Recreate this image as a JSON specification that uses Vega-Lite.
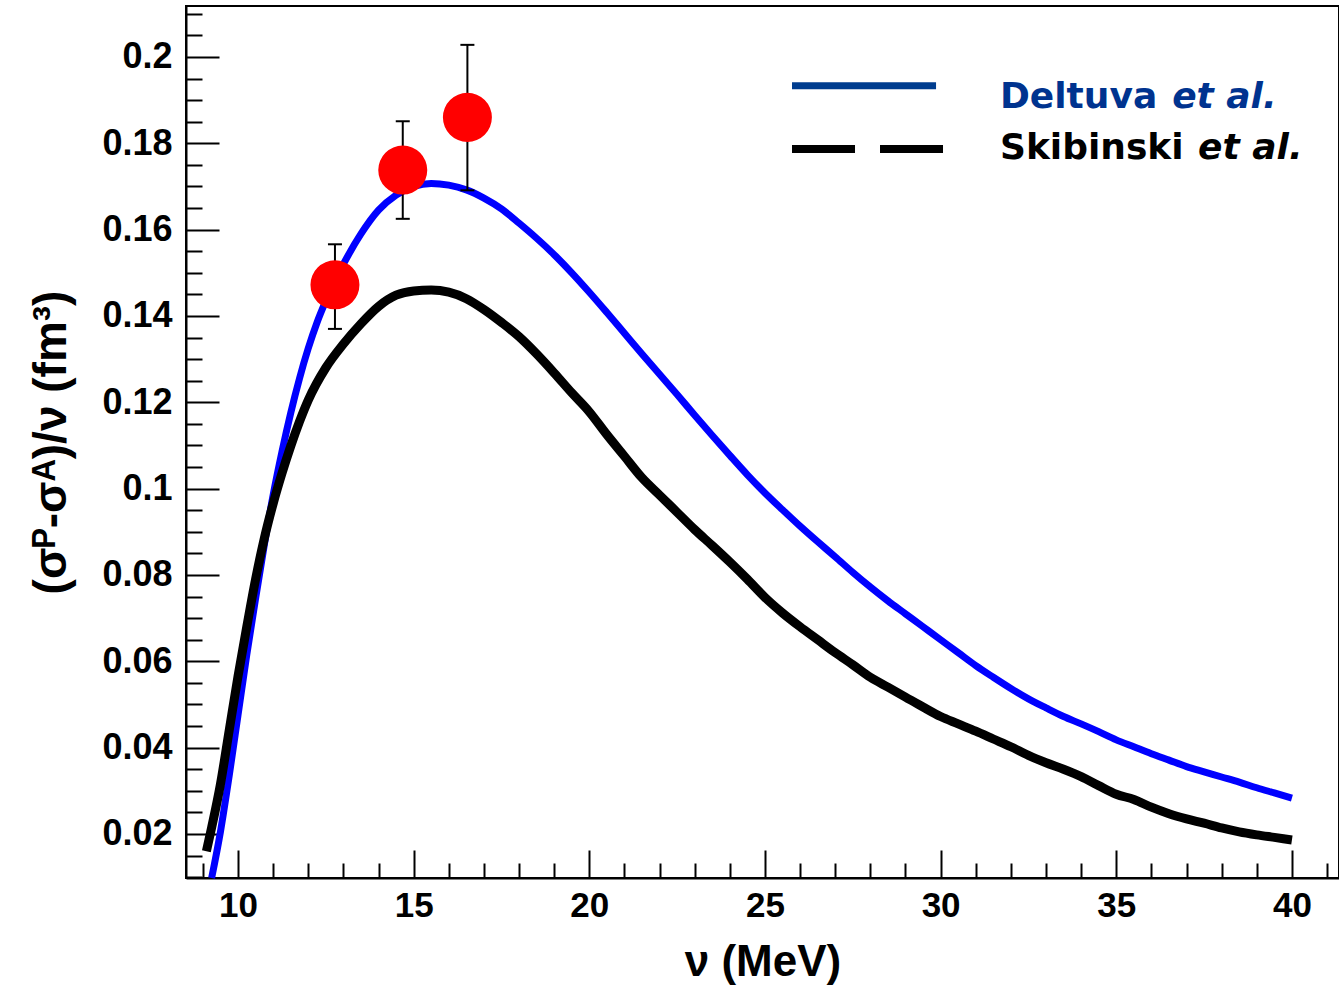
{
  "$schema": "https://vega.github.io/schema/vega-lite/v6.json",
  "autosize": "none",
  "width": 1153,
  "height": 872,
  "padding": {"left": 186, "top": 6, "right": 0, "bottom": 108},
  "background": "white",
  "config": {
    "view": {"stroke": "black", "strokeWidth": 2},
    "axis": {"grid": false}
  },
  "datasets": {
    "deltuva": [
      {"nu": 9.25, "val": 0.0098}, {"nu": 9.5, "val": 0.0205}, {"nu": 9.75, "val": 0.0335}, {"nu": 10.0, "val": 0.0475},
      {"nu": 10.25, "val": 0.0615}, {"nu": 10.5, "val": 0.0745}, {"nu": 10.75, "val": 0.087}, {"nu": 11.0, "val": 0.0985},
      {"nu": 11.25, "val": 0.1085}, {"nu": 11.5, "val": 0.1175}, {"nu": 11.75, "val": 0.1255}, {"nu": 12.0, "val": 0.1325},
      {"nu": 12.25, "val": 0.1385}, {"nu": 12.5, "val": 0.1435}, {"nu": 12.75, "val": 0.148}, {"nu": 13.0, "val": 0.152},
      {"nu": 13.5, "val": 0.159}, {"nu": 14.0, "val": 0.1645}, {"nu": 14.5, "val": 0.168}, {"nu": 15.0, "val": 0.17},
      {"nu": 15.5, "val": 0.1707}, {"nu": 16.0, "val": 0.1703}, {"nu": 16.5, "val": 0.1692}, {"nu": 17.0, "val": 0.1673},
      {"nu": 17.5, "val": 0.1648}, {"nu": 18.0, "val": 0.1615}, {"nu": 18.5, "val": 0.158}, {"nu": 19.0, "val": 0.1542},
      {"nu": 19.5, "val": 0.15}, {"nu": 20.0, "val": 0.1455}, {"nu": 20.5, "val": 0.1408}, {"nu": 21.0, "val": 0.136},
      {"nu": 21.5, "val": 0.1312}, {"nu": 22.0, "val": 0.1265}, {"nu": 22.5, "val": 0.1218}, {"nu": 23.0, "val": 0.117},
      {"nu": 23.5, "val": 0.1123}, {"nu": 24.0, "val": 0.1077}, {"nu": 24.5, "val": 0.1032}, {"nu": 25.0, "val": 0.099},
      {"nu": 25.5, "val": 0.0951}, {"nu": 26.0, "val": 0.0913}, {"nu": 26.5, "val": 0.0877}, {"nu": 27.0, "val": 0.0842},
      {"nu": 27.5, "val": 0.0806}, {"nu": 28.0, "val": 0.0772}, {"nu": 28.5, "val": 0.074}, {"nu": 29.0, "val": 0.071},
      {"nu": 29.5, "val": 0.068}, {"nu": 30.0, "val": 0.065}, {"nu": 30.5, "val": 0.062}, {"nu": 31.0, "val": 0.059},
      {"nu": 31.5, "val": 0.0563}, {"nu": 32.0, "val": 0.0537}, {"nu": 32.5, "val": 0.0513}, {"nu": 33.0, "val": 0.0492},
      {"nu": 33.5, "val": 0.0472}, {"nu": 34.0, "val": 0.0455}, {"nu": 34.5, "val": 0.0437}, {"nu": 35.0, "val": 0.0418},
      {"nu": 35.5, "val": 0.0402}, {"nu": 36.0, "val": 0.0386}, {"nu": 36.5, "val": 0.0371}, {"nu": 37.0, "val": 0.0356},
      {"nu": 37.5, "val": 0.0344}, {"nu": 38.0, "val": 0.0332}, {"nu": 38.5, "val": 0.032}, {"nu": 39.0, "val": 0.0307},
      {"nu": 39.5, "val": 0.0295}, {"nu": 40.0, "val": 0.0283}
    ],
    "skibinski": [
      {"nu": 9.1, "val": 0.016}, {"nu": 9.25, "val": 0.0215}, {"nu": 9.5, "val": 0.0315}, {"nu": 9.75, "val": 0.044},
      {"nu": 10.0, "val": 0.0565}, {"nu": 10.25, "val": 0.068}, {"nu": 10.5, "val": 0.079}, {"nu": 10.75, "val": 0.0885},
      {"nu": 11.0, "val": 0.0965}, {"nu": 11.25, "val": 0.1035}, {"nu": 11.5, "val": 0.1098}, {"nu": 11.75, "val": 0.1155},
      {"nu": 12.0, "val": 0.1205}, {"nu": 12.5, "val": 0.128}, {"nu": 13.0, "val": 0.1335}, {"nu": 13.5, "val": 0.1382},
      {"nu": 14.0, "val": 0.1422}, {"nu": 14.5, "val": 0.1448}, {"nu": 15.0, "val": 0.1458}, {"nu": 15.5, "val": 0.146},
      {"nu": 16.0, "val": 0.1455}, {"nu": 16.5, "val": 0.144}, {"nu": 17.0, "val": 0.1415}, {"nu": 17.5, "val": 0.1385},
      {"nu": 18.0, "val": 0.1352}, {"nu": 18.5, "val": 0.1312}, {"nu": 19.0, "val": 0.1268}, {"nu": 19.5, "val": 0.1222},
      {"nu": 20.0, "val": 0.1178}, {"nu": 20.5, "val": 0.1125}, {"nu": 21.0, "val": 0.1075}, {"nu": 21.5, "val": 0.1025},
      {"nu": 22.0, "val": 0.0985}, {"nu": 22.5, "val": 0.0945}, {"nu": 23.0, "val": 0.0905}, {"nu": 23.5, "val": 0.0868},
      {"nu": 24.0, "val": 0.083}, {"nu": 24.5, "val": 0.079}, {"nu": 25.0, "val": 0.0748}, {"nu": 25.5, "val": 0.0712},
      {"nu": 26.0, "val": 0.068}, {"nu": 26.5, "val": 0.065}, {"nu": 27.0, "val": 0.062}, {"nu": 27.5, "val": 0.0592},
      {"nu": 28.0, "val": 0.0563}, {"nu": 28.5, "val": 0.054}, {"nu": 29.0, "val": 0.0517}, {"nu": 29.5, "val": 0.0494},
      {"nu": 30.0, "val": 0.0472}, {"nu": 30.5, "val": 0.0455}, {"nu": 31.0, "val": 0.0438}, {"nu": 31.5, "val": 0.042},
      {"nu": 32.0, "val": 0.0402}, {"nu": 32.5, "val": 0.0382}, {"nu": 33.0, "val": 0.0365}, {"nu": 33.5, "val": 0.035},
      {"nu": 34.0, "val": 0.0333}, {"nu": 34.5, "val": 0.0312}, {"nu": 35.0, "val": 0.0292}, {"nu": 35.5, "val": 0.028},
      {"nu": 36.0, "val": 0.0262}, {"nu": 36.5, "val": 0.0247}, {"nu": 37.0, "val": 0.0235}, {"nu": 37.5, "val": 0.0225},
      {"nu": 38.0, "val": 0.0214}, {"nu": 38.5, "val": 0.0205}, {"nu": 39.0, "val": 0.0198}, {"nu": 39.5, "val": 0.0192},
      {"nu": 40.0, "val": 0.0186}
    ],
    "exp": [
      {"nu": 12.76, "val": 0.1472, "lo": 0.137, "hi": 0.1566},
      {"nu": 14.69, "val": 0.1738, "lo": 0.1625, "hi": 0.1851},
      {"nu": 16.53, "val": 0.186, "lo": 0.1691, "hi": 0.2028}
    ],
    "legendLines": [
      {"series": "Deltuva", "x1": 25.77, "x2": 29.87, "y": 0.1933},
      {"series": "Skibinski", "x1": 25.77, "x2": 30.07, "y": 0.1787}
    ],
    "legendText": [
      {"series": "Deltuva", "part": "name", "x": 31.69, "y": 0.1882, "text": "Deltuva"},
      {"series": "Deltuva", "part": "etal", "x": 36.59, "y": 0.1882, "text": "et al."},
      {"series": "Skibinski", "part": "name", "x": 31.69, "y": 0.1764, "text": "Skibinski"},
      {"series": "Skibinski", "part": "etal", "x": 37.33, "y": 0.1764, "text": "et al."}
    ]
  },
  "encoding": {
    "x": {
      "field": "nu", "type": "quantitative",
      "scale": {"domain": [8.52, 41.34], "nice": false, "zero": false},
      "axis": {
        "title": "ν (MeV)",
        "titleFont": "Liberation Sans", "titleFontSize": 44, "titleFontWeight": "bold", "titleColor": "black",
        "titlePadding": 4,
        "values": [9,10,11,12,13,14,15,16,17,18,19,20,21,22,23,24,25,26,27,28,29,30,31,32,33,34,35,36,37,38,39,40,41],
        "tickSize": {"condition": {"test": "datum.value % 5 === 0", "value": -28}, "value": -15},
        "tickColor": "black", "tickWidth": 2,
        "domainColor": "black", "domainWidth": 2,
        "labelExpr": "datum.value % 5 === 0 ? datum.label : ''",
        "labelFont": "Liberation Sans", "labelFontSize": 35, "labelFontWeight": "bold", "labelColor": "black",
        "labelPadding": 38, "labelOverlap": false, "labelFlush": false, "labelBound": false
      }
    },
    "y": {
      "field": "val", "type": "quantitative",
      "scale": {"domain": [0.0098, 0.2118], "nice": false, "zero": false},
      "axis": {
        "title": "(σᴾ-σᴬ)/ν (fm³)",
        "titleFont": "Liberation Sans", "titleFontSize": 46, "titleFontWeight": "bold", "titleColor": "black",
        "titlePadding": 26,
        "values": [0.01,0.015,0.02,0.025,0.03,0.035,0.04,0.045,0.05,0.055,0.06,0.065,0.07,0.075,0.08,0.085,0.09,0.095,0.1,0.105,0.11,0.115,0.12,0.125,0.13,0.135,0.14,0.145,0.15,0.155,0.16,0.165,0.17,0.175,0.18,0.185,0.19,0.195,0.2,0.205,0.21],
        "format": ".2~f",
        "tickSize": {"condition": {"test": "abs(datum.value/0.02 - round(datum.value/0.02)) < 0.000001", "value": -33}, "value": -16},
        "tickColor": "black", "tickWidth": 2,
        "domainColor": "black", "domainWidth": 2,
        "labelExpr": "abs(datum.value/0.02 - round(datum.value/0.02)) < 0.000001 ? datum.label : ''",
        "labelFont": "Liberation Sans", "labelFontSize": 36, "labelFontWeight": "bold", "labelColor": "black",
        "labelPadding": 47, "labelOverlap": false, "labelFlush": false, "labelBound": false
      }
    }
  },
  "layer": [
    {
      "data": {"name": "deltuva"},
      "mark": {"type": "line", "color": "#0000ff", "strokeWidth": 7, "interpolate": "monotone"}
    },
    {
      "data": {"name": "skibinski"},
      "mark": {"type": "line", "color": "black", "strokeWidth": 9, "interpolate": "monotone"}
    },
    {
      "data": {"name": "exp"},
      "mark": {"type": "rule", "color": "black", "strokeWidth": 2},
      "encoding": {
        "y": {"field": "lo", "type": "quantitative"},
        "y2": {"field": "hi"}
      }
    },
    {
      "data": {"name": "exp"},
      "mark": {"type": "tick", "color": "black", "orient": "horizontal", "size": 14, "thickness": 2, "opacity": 1},
      "encoding": {
        "y": {"field": "lo", "type": "quantitative"}
      }
    },
    {
      "data": {"name": "exp"},
      "mark": {"type": "tick", "color": "black", "orient": "horizontal", "size": 14, "thickness": 2, "opacity": 1},
      "encoding": {
        "y": {"field": "hi", "type": "quantitative"}
      }
    },
    {
      "data": {"name": "exp"},
      "mark": {"type": "circle", "color": "#ff0000", "size": 2400, "opacity": 1}
    },
    {
      "data": {"name": "legendLines"},
      "transform": [{"filter": "datum.series === 'Deltuva'"}],
      "mark": {"type": "rule", "color": "#003d8f", "strokeWidth": 7, "strokeCap": "butt"},
      "encoding": {
        "x": {"field": "x1", "type": "quantitative"},
        "x2": {"field": "x2"},
        "y": {"field": "y", "type": "quantitative"}
      }
    },
    {
      "data": {"name": "legendLines"},
      "transform": [{"filter": "datum.series === 'Skibinski'"}],
      "mark": {"type": "rule", "color": "black", "strokeWidth": 8, "strokeCap": "butt", "strokeDash": [63, 25]},
      "encoding": {
        "x": {"field": "x1", "type": "quantitative"},
        "x2": {"field": "x2"},
        "y": {"field": "y", "type": "quantitative"}
      }
    },
    {
      "data": {"name": "legendText"},
      "transform": [{"filter": "datum.part === 'name'"}],
      "mark": {"type": "text", "font": "DejaVu Sans", "fontSize": 36, "fontWeight": "bold", "align": "left", "baseline": "alphabetic"},
      "encoding": {
        "x": {"field": "x", "type": "quantitative"},
        "y": {"field": "y", "type": "quantitative"},
        "text": {"field": "text"},
        "color": {"field": "series", "type": "nominal", "scale": {"domain": ["Deltuva", "Skibinski"], "range": ["#00338f", "black"]}, "legend": null}
      }
    },
    {
      "data": {"name": "legendText"},
      "transform": [{"filter": "datum.part === 'etal'"}],
      "mark": {"type": "text", "font": "DejaVu Sans", "fontSize": 36, "fontWeight": "bold", "fontStyle": "italic", "align": "left", "baseline": "alphabetic"},
      "encoding": {
        "x": {"field": "x", "type": "quantitative"},
        "y": {"field": "y", "type": "quantitative"},
        "text": {"field": "text"},
        "color": {"field": "series", "type": "nominal", "scale": {"domain": ["Deltuva", "Skibinski"], "range": ["#00338f", "black"]}, "legend": null}
      }
    }
  ]
}
